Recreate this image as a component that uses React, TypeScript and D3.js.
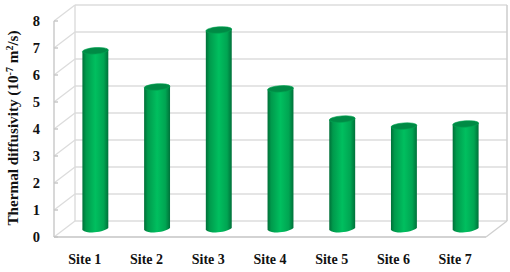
import React from "react";
import { scaleBand, scaleLinear, path as d3path } from "d3";

const width = 510;
const height = 272;

const sites = ["Site 1", "Site 2", "Site 3", "Site 4", "Site 5", "Site 6", "Site 7"];
const diffusivity = [6.6, 5.26, 7.37, 5.19, 4.07, 3.81, 3.89];
const yTicks = [0, 1, 2, 3, 4, 5, 6, 7, 8];

const serif = "'Liberation Serif', 'Times New Roman', serif";

// 3D box: the back wall sits up and to the right of the front plane
const depth = { x: 21, y: -16 };
const front = { left: 54, right: 486, top: 21, bottom: 237 };

const xScale = scaleBand<string>()
  .domain(sites)
  .range([front.left, front.right])
  .paddingInner(0.58)
  .paddingOuter(0.29);

const yScale = scaleLinear().domain([0, 8]).range([front.bottom, front.top]);

const ry = 3.2;
const tilt = -4;

const cylinderBody = (cx: number, topY: number, baseY: number, r: number) => {
  const p = d3path();
  const lift = r * Math.tan((-tilt * Math.PI) / 180);
  p.moveTo(cx - r, topY + lift);
  p.lineTo(cx + r, topY - lift);
  p.lineTo(cx + r, baseY - lift);
  p.bezierCurveTo(cx + r * 0.6, baseY + ry * 1.1, cx - r * 0.6, baseY + ry * 1.7, cx - r, baseY + lift);
  p.closePath();
  return p.toString();
};

export default function App() {
  const backX0 = front.left + depth.x;
  const backX1 = front.right + depth.x;
  const band = xScale.bandwidth();

  return (
    <svg
      width={width}
      height={height}
      style={{ position: "absolute", left: 0, top: 0, background: "#fff" }}
    >
      <defs>
        <linearGradient id="barFill" x1="0" x2="1" y1="0" y2="0">
          <stop offset="0" stopColor="#006f38" />
          <stop offset="0.14" stopColor="#009a4c" />
          <stop offset="0.5" stopColor="#00bf5f" />
          <stop offset="0.82" stopColor="#00a552" />
          <stop offset="1" stopColor="#00713a" />
        </linearGradient>
      </defs>

      {/* walls */}
      {yTicks.map((t) => (
        <g key={t} fill="none" stroke="#dcdcdc" strokeWidth={1.4}>
          <line x1={backX0} x2={backX1} y1={yScale(t) + depth.y} y2={yScale(t) + depth.y} />
          <line x1={front.left} x2={backX0} y1={yScale(t)} y2={yScale(t) + depth.y} />
          <line x1={front.left} x2={front.left + 4} y1={yScale(t)} y2={yScale(t)} stroke="#c4c4c4" />
        </g>
      ))}
      <line x1={backX0} x2={backX0} y1={yScale(8) + depth.y} y2={yScale(0) + depth.y} stroke="#dcdcdc" strokeWidth={1.4} />
      <line x1={backX1} x2={backX1} y1={yScale(8) + depth.y} y2={yScale(0) + depth.y} stroke="#d0d0d0" strokeWidth={1.6} />
      <line x1={front.left} x2={front.left} y1={yScale(8)} y2={yScale(0)} stroke="#c8c8c8" strokeWidth={1.4} />
      <line x1={front.left} x2={front.right} y1={yScale(0)} y2={yScale(0)} stroke="#c4c4c4" strokeWidth={1.4} />
      <line x1={front.right} x2={backX1} y1={yScale(0)} y2={yScale(0) + depth.y} stroke="#d0d0d0" strokeWidth={1.4} />

      {/* cylinders stand halfway into the box */}
      {sites.map((s, i) => {
        const cx = (xScale(s) as number) + band / 2 + depth.x / 2;
        const topY = yScale(diffusivity[i]) + depth.y / 2;
        const baseY = yScale(0) + depth.y / 2;
        return (
          <g key={s}>
            <path d={cylinderBody(cx, topY, baseY, band / 2)} fill="url(#barFill)" />
            <ellipse
              cx={cx}
              cy={topY}
              rx={band / 2}
              ry={ry}
              fill="#008a45"
              stroke="#00a452"
              strokeWidth={0.6}
              transform={`rotate(${tilt} ${cx} ${topY})`}
            />
          </g>
        );
      })}

      {/* y axis labels */}
      {yTicks.map((t) => (
        <text
          key={t}
          x={40}
          y={yScale(t)}
          dy="0.35em"
          textAnchor="end"
          fontFamily={serif}
          fontWeight="bold"
          fontSize={14.5}
          fill="#111"
        >
          {t}
        </text>
      ))}

      {/* x axis labels */}
      {sites.map((s) => (
        <text
          key={s}
          x={(xScale(s) as number) + band / 2}
          y={259}
          dy="0.35em"
          textAnchor="middle"
          fontFamily={serif}
          fontWeight="bold"
          fontSize={14}
          fill="#111"
        >
          {s}
        </text>
      ))}

      <text
        transform="translate(18,128) rotate(-90)"
        textAnchor="middle"
        fontFamily={serif}
        fontWeight="bold"
        fontSize={15.2}
        fill="#111"
      >
        Thermal diffusivity (10
        <tspan fontSize={10} dy={-5}>-7</tspan>
        <tspan dy={5}> m</tspan>
        <tspan fontSize={10} dy={-5}>2</tspan>
        <tspan dy={5}>/s)</tspan>
      </text>
    </svg>
  );
}
